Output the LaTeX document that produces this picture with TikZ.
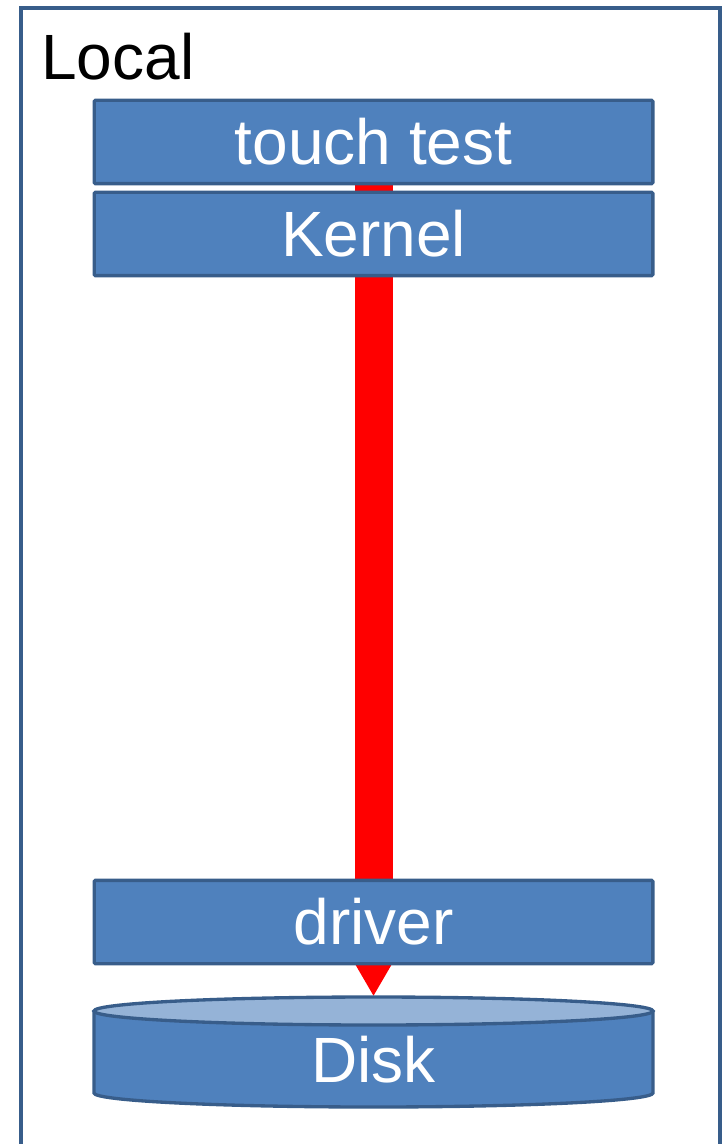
\documentclass[tikz,border=0pt]{standalone}
\usepackage{fontspec}
\setmainfont{Liberation Sans}
\usetikzlibrary{arrows.meta,backgrounds}
\definecolor{boxfill}{HTML}{4F81BD}
\definecolor{boxline}{HTML}{385D8A}
\definecolor{disktop}{HTML}{95B3D7}
\begin{document}
\begin{tikzpicture}[x=0.75pt,y=-0.75pt,
  bigtext/.style={font=\fontsize{48}{57}\selectfont, text height=34.4pt, text depth=0pt, inner sep=0pt},
  layerbox/.style={bigtext, draw=boxline, fill=boxfill, line width=2.5pt, rounded corners=1pt,
    minimum width=419pt, minimum height=62.5pt, text=white},
  flow/.style={draw=red, line width=28.5pt, -{Triangle[length=45pt,width=48pt]}},
  frame/.style={draw=boxline, line width=2.6pt}]
  \path[use as bounding box, clip] (0,0) rectangle (723,1144);

  % enclosing machine frame
  \draw[frame] (21,8) rectangle (720,1180);
  \node[bigtext, anchor=base west] (local) at (41,80) {Local};

  % software layers
  \node[layerbox] (touch)  at (373.5,142) {touch test};
  \node[layerbox] (kernel) at (373.5,234) {Kernel};
  \node[layerbox] (driver) at (373.5,922) {driver};

  % disk cylinder
  \node[minimum width=419pt, minimum height=82.5pt, inner sep=0pt] (disk) at (373.5,1052) {};
  \fill[boxfill] (94,1011) rectangle (653,1093);
  \fill[boxfill] (373.5,1093) ellipse [x radius=209.6pt, y radius=10.5pt];
  \draw[boxline, line width=2.5pt] (94,1011) -- (94,1093)
    arc[start angle=180, end angle=360, x radius=209.6pt, y radius=10.5pt] -- (653,1011);
  \filldraw[fill=disktop, draw=boxline, line width=2.5pt] (373.5,1011) ellipse [x radius=209.6pt, y radius=10.5pt];
  \node[bigtext, text=white] (disklabel) at (373.5,1060) {Disk};

  % write path from the application down to the disk
  \begin{scope}[on background layer]
    \draw[flow] (touch.south) -- (disk.north);
  \end{scope}
\end{tikzpicture}
\end{document}
